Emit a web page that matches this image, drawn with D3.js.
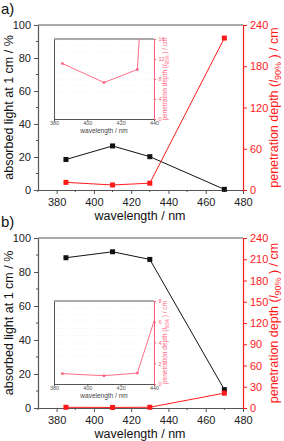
<!DOCTYPE html>
<html>
<head>
<meta charset="utf-8">
<script src="https://cdn.jsdelivr.net/npm/d3@7"></script>
<style>
  body { margin: 0; background: #fff; }
  svg { display: block; font-family: "Liberation Sans", Arial, sans-serif; }
</style>
</head>
<body>
<div id="chart"></div>
<script>
// data
var wavelengths = [385, 410, 430, 470];
var absorbedA = [18.5, 26.7, 20.2, 0.4];
var depthA = [11.1, 7.3, 9.9, 221];
var absorbedB = [88.4, 91.9, 87.4, 10.8];
var depthB = [1.0, 0.8, 1.05, 21];

var xTicks = [380, 400, 420, 440, 460, 480];
var xMinor = [370, 390, 410, 430, 450, 470];
var leftTicks = [0, 20, 40, 60, 80, 100];
var leftMinor = [10, 30, 50, 70, 90];
var rightTicksA = [0, 60, 120, 180, 240];
var rightTicksB = [0, 30, 60, 90, 120, 150, 180, 210, 240];
var insetXTicks = [380, 400, 420, 440];
var insetTicksA = [0, 4, 8, 12, 16];
var insetTicksB = [0, 2, 4, 6, 8];

var W = 284, H = 441;
var red = '#ff1a1a', pink = '#ff5c7a', frame = '#555';

var svg = d3.select('#chart').append('svg')
    .attr('width', W).attr('height', H);

var defs = svg.append('defs');

function drawPanel(p) {
    var g = svg.append('g');

    var x = d3.scaleLinear().domain([370, 480]).range([38, 243]);
    var yL = d3.scaleLinear().domain([0, 100]).range([p.bottom, p.top]);
    var yR = d3.scaleLinear().domain([0, 240]).range([p.bottom, p.top]);

    // frame top line
    g.append('line')
        .attr('x1', 38).attr('x2', 243).attr('y1', p.top).attr('y2', p.top)
        .attr('stroke', frame).attr('stroke-width', 1.2);

    // bottom axis
    var xAxis = g.append('g').attr('transform', 'translate(0,' + p.bottom + ')')
        .call(d3.axisBottom(x).tickValues(xTicks).tickSize(4).tickSizeOuter(0));
    xAxis.append('g').selectAll('line').data(xMinor).enter().append('line')
        .attr('x1', function(d) { return x(d); }).attr('x2', function(d) { return x(d); })
        .attr('y1', 0).attr('y2', 2).attr('stroke', frame);
    xAxis.select('.domain').attr('stroke', frame).attr('stroke-width', 1.2);
    xAxis.selectAll('.tick line').attr('stroke', frame);
    xAxis.selectAll('text').attr('font-size', 11).attr('fill', '#222').attr('dy', '0.85em');

    // left axis
    var lAxis = g.append('g').attr('transform', 'translate(38,0)')
        .call(d3.axisLeft(yL).tickValues(leftTicks).tickSize(4).tickSizeOuter(0));
    lAxis.append('g').selectAll('line').data(leftMinor).enter().append('line')
        .attr('y1', function(d) { return yL(d); }).attr('y2', function(d) { return yL(d); })
        .attr('x1', 0).attr('x2', -2).attr('stroke', frame);
    lAxis.select('.domain').attr('stroke', frame).attr('stroke-width', 1.2);
    lAxis.selectAll('.tick line').attr('stroke', frame);
    lAxis.selectAll('text').attr('font-size', 11).attr('fill', '#222');

    // right axis
    var rAxis = g.append('g').attr('transform', 'translate(243,0)')
        .call(d3.axisRight(yR).tickValues(p.rightTicks).tickSize(4).tickSizeOuter(0));
    rAxis.select('.domain').attr('stroke', red).attr('stroke-width', 1.2);
    rAxis.selectAll('.tick line').attr('stroke', red);
    rAxis.selectAll('text').attr('font-size', 11).attr('fill', red);

    // axis titles
    g.append('text')
        .attr('transform', 'translate(13,' + ((p.top + p.bottom) / 2) + ') rotate(-90)')
        .attr('text-anchor', 'middle').attr('font-size', 12.5).attr('fill', '#111')
        .text('absorbed light at 1 cm / %');

    var rt = g.append('text')
        .attr('transform', 'translate(278,' + ((p.top + p.bottom) / 2) + ') rotate(-90)')
        .attr('text-anchor', 'middle').attr('font-size', 12.5).attr('fill', red);
    rt.append('tspan').text('penetration depth (');
    rt.append('tspan').attr('font-style', 'italic').text('l');
    rt.append('tspan').attr('font-size', 9).attr('dy', 3).text('90%');
    rt.append('tspan').attr('dy', -3).text(' ) / cm');

    g.append('text')
        .attr('x', 140).attr('y', p.bottom + 30)
        .attr('text-anchor', 'middle').attr('font-size', 12.5).attr('fill', '#111')
        .text('wavelength / nm');

    g.append('text')
        .attr('x', 1).attr('y', p.top - 11)
        .attr('font-size', 15).attr('fill', '#111')
        .text(p.label);

    // inset
    var ix = d3.scaleLinear().domain([380, 440]).range([54, 154]);
    var iy = d3.scaleLinear().domain([0, p.insetMax]).range([p.iBottom, p.iTop]);
    var ig = g.append('g');

    ig.append('rect')
        .attr('x', 54).attr('y', p.iTop).attr('width', 100).attr('height', p.iBottom - p.iTop)
        .attr('fill', '#fff');
    // faint dotted grid
    ig.append('g').selectAll('line').data(d3.range(1, 12)).enter().append('line')
        .attr('x1', 54).attr('x2', 154)
        .attr('y1', function(d) { return p.iTop + d * (p.iBottom - p.iTop) / 12; })
        .attr('y2', function(d) { return p.iTop + d * (p.iBottom - p.iTop) / 12; })
        .attr('stroke', '#d6e6ee').attr('stroke-width', 0.5).attr('stroke-dasharray', '1,2');

    ig.append('line')
        .attr('x1', 54).attr('x2', 154).attr('y1', p.iTop).attr('y2', p.iTop)
        .attr('stroke', frame).attr('stroke-width', 1);

    var ixAxis = ig.append('g').attr('transform', 'translate(0,' + p.iBottom + ')')
        .call(d3.axisBottom(ix).tickValues(insetXTicks).tickSize(2).tickSizeOuter(0));
    ixAxis.select('.domain').attr('stroke', frame);
    ixAxis.selectAll('.tick line').attr('stroke', frame);
    ixAxis.selectAll('text').attr('font-size', 5.5).attr('fill', '#555')
        .attr('y', 2).attr('dy', '0.7em');

    var ilAxis = ig.append('g').attr('transform', 'translate(54,0)')
        .call(d3.axisLeft(iy).tickValues([]).tickSizeOuter(0));
    ilAxis.select('.domain').attr('stroke', frame);

    var irAxis = ig.append('g').attr('transform', 'translate(154,0)')
        .call(d3.axisRight(iy).tickValues(p.insetTicks).tickSize(2).tickSizeOuter(0));
    irAxis.select('.domain').attr('stroke', pink);
    irAxis.selectAll('.tick line').attr('stroke', pink);
    irAxis.selectAll('text').attr('font-size', 5.5).attr('fill', pink).attr('dx', '-0.1em');

    ig.append('text')
        .attr('x', 104).attr('y', p.iBottom + 14)
        .attr('text-anchor', 'middle').attr('font-size', 6.5).attr('fill', '#444')
        .text('wavelength / nm');

    var it = ig.append('text')
        .attr('transform', 'translate(167,' + ((p.iTop + p.iBottom) / 2) + ') rotate(-90)')
        .attr('text-anchor', 'middle').attr('font-size', 6.5).attr('fill', pink);
    it.append('tspan').text('penetration depth (');
    it.append('tspan').attr('font-style', 'italic').text('l');
    it.append('tspan').attr('font-size', 4.5).attr('dy', 1.5).text('90%');
    it.append('tspan').attr('dy', -1.5).text(' ) / cm');

    var clipId = 'clip-' + p.id;
    defs.append('clipPath').attr('id', clipId)
        .append('rect').attr('x', 54).attr('y', p.iTop)
        .attr('width', 100).attr('height', p.iBottom - p.iTop);

    var pts = wavelengths.map(function(w, i) { return {w: w, v: p.depth[i]}; });
    var inner = ig.append('g').attr('clip-path', 'url(#' + clipId + ')');
    inner.append('path')
        .attr('d', d3.line().x(function(d) { return ix(d.w); }).y(function(d) { return iy(d.v); })(pts))
        .attr('fill', 'none').attr('stroke', pink).attr('stroke-width', 0.9);
    inner.selectAll('rect').data(pts).enter().append('rect')
        .attr('x', function(d) { return ix(d.w) - 1.2; })
        .attr('y', function(d) { return iy(d.v) - 1.2; })
        .attr('width', 2.4).attr('height', 2.4).attr('fill', pink);

    // main series
    var abs = wavelengths.map(function(w, i) { return {w: w, v: p.absorbed[i]}; });
    g.append('path')
        .attr('d', d3.line().x(function(d) { return x(d.w); }).y(function(d) { return yL(d.v); })(abs))
        .attr('fill', 'none').attr('stroke', '#111').attr('stroke-width', 1);
    g.append('g').selectAll('rect').data(abs).enter().append('rect')
        .attr('x', function(d) { return x(d.w) - 2.5; })
        .attr('y', function(d) { return yL(d.v) - 2.5; })
        .attr('width', 5).attr('height', 5).attr('fill', '#111');

    g.append('path')
        .attr('d', d3.line().x(function(d) { return x(d.w); }).y(function(d) { return yR(d.v); })(pts))
        .attr('fill', 'none').attr('stroke', red).attr('stroke-width', 1);
    g.append('g').selectAll('rect').data(pts).enter().append('rect')
        .attr('x', function(d) { return x(d.w) - 2.5; })
        .attr('y', function(d) { return yR(d.v) - 2.5; })
        .attr('width', 5).attr('height', 5).attr('fill', red);
}

drawPanel({
    id: 'a', label: 'a)', top: 25, bottom: 190, rightTicks: rightTicksA,
    absorbed: absorbedA, depth: depthA,
    iTop: 39, iBottom: 119, insetMax: 16, insetTicks: insetTicksA
});

drawPanel({
    id: 'b', label: 'b)', top: 238, bottom: 408, rightTicks: rightTicksB,
    absorbed: absorbedB, depth: depthB,
    iTop: 301, iBottom: 384, insetMax: 8, insetTicks: insetTicksB
});
</script>
</body>
</html>
